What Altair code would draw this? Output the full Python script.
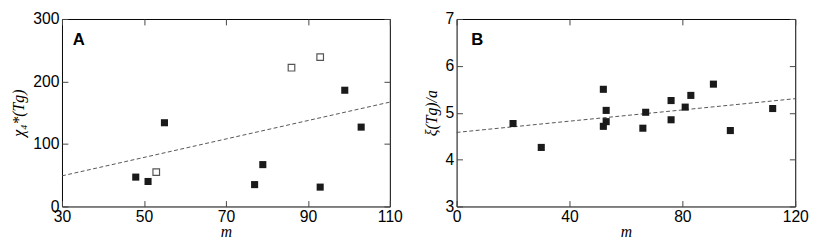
import altair as alt
import pandas as pd

# Panel A data
a_m_filled = [48, 51, 55, 77, 79, 93, 99, 103]
a_chi_filled = [47, 40, 134, 35, 67, 31, 186, 127]
a_m_open = [53, 86, 93]
a_chi_open = [55, 222, 239]
a_fit_m = [30, 110]
a_fit_chi = [49, 167]
a_xticks = [30, 50, 70, 90, 110]
a_yticks = [0, 100, 200, 300]

# Panel B data
b_m = [20, 30, 52, 53, 53, 52, 66, 67, 76, 76, 81, 83, 91, 97, 112]
b_xi = [4.77, 4.26, 5.50, 5.05, 4.81, 4.71, 4.67, 5.01, 5.26, 4.85, 5.12, 5.37, 5.61, 4.62, 5.09]
b_fit_m = [0, 120]
b_fit_xi = [4.58, 5.30]
b_xticks = [0, 40, 80, 120]
b_yticks = [3, 4, 5, 6, 7]

TICK = 6


def axes(xticks, yticks, ytitle):
    common = dict(domain=False, grid=False, tickSize=TICK, offset=-TICK,
                  tickColor="#444", tickWidth=1, labelFlush=False, labelOverlap=False)
    bottom = alt.Axis(orient="bottom", values=xticks, title="m", labelPadding=2,
                      titlePadding=0, **common)
    left = alt.Axis(orient="left", values=yticks, title=ytitle, labelPadding=3,
                    titlePadding=6, **common)
    top = alt.Axis(orient="top", values=xticks, labels=False, title=None, **common)
    right = alt.Axis(orient="right", values=yticks, labels=False, title=None, **common)
    return bottom, left, top, right


def panel(filled_x, filled_y, open_x, open_y, fit_x, fit_y, xdom, ydom, xticks, yticks,
          ytitle, label, label_dx, width):
    bottom, left, top, right = axes(xticks, yticks, ytitle)
    xs = alt.Scale(domain=xdom, nice=False, zero=False)
    ys = alt.Scale(domain=ydom, nice=False, zero=False)

    df_f = pd.DataFrame({"m": filled_x, "v": filled_y})
    pts = alt.Chart(df_f).mark_square(size=52, color="#1a1a1a", opacity=1).encode(
        x=alt.X("m:Q", scale=xs, axis=bottom),
        y=alt.Y("v:Q", scale=ys, axis=left),
    )
    df_fit = pd.DataFrame({"m": fit_x, "v": fit_y})
    line = alt.Chart(df_fit).mark_line(color="#555", strokeWidth=1, strokeDash=[4, 2.5]).encode(
        x=alt.X("m:Q", scale=xs, axis=top),
        y=alt.Y("v:Q", scale=ys, axis=right),
    )
    layers = [line, pts]
    if open_x:
        df_o = pd.DataFrame({"m": open_x, "v": open_y})
        op = alt.Chart(df_o).mark_square(size=45, filled=False, fill="white", stroke="#555",
                                         strokeWidth=1.2, opacity=1).encode(
            x=alt.X("m:Q", scale=xs, axis=None),
            y=alt.Y("v:Q", scale=ys, axis=None),
        )
        layers.append(op)
    txt = alt.Chart(pd.DataFrame({"t": [label]})).mark_text(
        font="Liberation Sans", fontWeight="bold", fontSize=17, align="left",
        baseline="alphabetic", color="black").encode(
        x=alt.value(label_dx), y=alt.value(27), text="t:N")
    layers.append(txt)
    return alt.layer(*layers).resolve_axis(x="independent", y="independent").properties(
        width=width, height=191)


pa = panel(a_m_filled, a_chi_filled, a_m_open, a_chi_open, a_fit_m, a_fit_chi,
           [30, 110], [0, 300], a_xticks, a_yticks, "χ₄*(Tg)", "A", 11, 334)
pb = panel(b_m, b_xi, [], [], b_fit_m, b_fit_xi,
           [0, 120], [3, 7], b_xticks, b_yticks, "ξ(Tg)/a", "B", 15, 345)

chart = alt.hconcat(pa, pb, spacing=19).properties(
    padding={"left": 2, "top": 0, "right": 0, "bottom": 0}
).configure_view(stroke="black", strokeWidth=1).configure_axis(
    labelFont="Liberation Sans", labelFontSize=16, labelColor="black",
    titleFont="Liberation Serif", titleFontSize=16, titleFontStyle="italic",
    titleFontWeight="normal", titleColor="black"
)

chart.save("out.html", embed_options={"renderer": "svg", "actions": False})
